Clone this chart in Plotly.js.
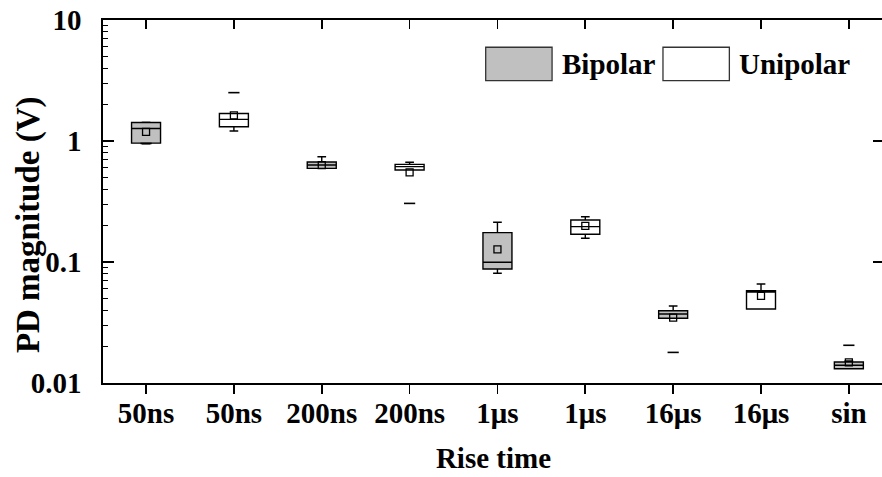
<!DOCTYPE html>
<html>
<head>
<meta charset="utf-8">
<script src="https://cdn.plot.ly/plotly-3.0.1.min.js"></script>
<style>html,body{margin:0;padding:0;overflow:hidden;background:#fff}</style>
</head>
<body>
<div id="chart"></div>
<script>
// Category tick labels (Rise time)
const tickLabels = ["50ns","50ns","200ns","200ns","1\u03bcs","1\u03bcs","16\u03bcs","16\u03bcs","sin"];
const tickPos = [0,1,2,3,4,5,6,7,8];
const minorTickVals = [0.02,0.03,0.04,0.05,0.06,0.07,0.08,0.09,0.2,0.3,0.4,0.5,0.6,0.7,0.8,0.9,2,3,4,5,6,7,8,9];

// Bipolar series
const bipX     = [0, 2, 4, 6, 8];
const bipQ1    = [0.96, 0.594, 0.0875, 0.0343, 0.0131];
const bipMed   = [1.27, 0.633, 0.0994, 0.0372, 0.0140];
const bipQ3    = [1.42, 0.670, 0.175, 0.0396, 0.0149];
const bipLo    = [0.95, 0.594, 0.0807, 0.0343, 0.0131];
const bipHi    = [1.43, 0.742, 0.213, 0.0433, 0.0152];
const bipMean  = [1.19, 0.633, 0.127, 0.0347, 0.0148];
const bipExtX  = [0, 6, 8];
const bipExtY  = [0.955, 0.0179, 0.0205];

// Unipolar series
const uniX     = [1, 3, 5, 7];
const uniQ1    = [1.31, 0.576, 0.1695, 0.0409];
const uniMed   = [1.51, 0.614, 0.196, 0.0565];
const uniQ3    = [1.69, 0.641, 0.2225, 0.0579];
const uniLo    = [1.21, 0.576, 0.157, 0.0409];
const uniHi    = [1.69, 0.667, 0.2366, 0.0658];
const uniMean  = [1.63, 0.551, 0.199, 0.0524];
const uniExtX  = [1, 3];
const uniExtY  = [2.51, 0.305];

const seriesNames = ["Bipolar", "Unipolar"];
const seriesFill = ["#c0c0c0", "#ffffff"];
const yTitle = "PD magnitude (V)";
const xTitle = "Rise time";

const FONT = "Liberation Serif, Times New Roman, serif";
const boxStyle = (fill) => ({
  type: "box", fillcolor: fill, line: {color: "#000", width: 1.4},
  width: 0.33, whiskerwidth: 0.3, boxpoints: false, hoverinfo: "skip", showlegend: false
});

const traces = [
  Object.assign(boxStyle(seriesFill[0]), {name: seriesNames[0], x: bipX, q1: bipQ1, median: bipMed, q3: bipQ3, lowerfence: bipLo, upperfence: bipHi}),
  Object.assign(boxStyle(seriesFill[1]), {name: seriesNames[1], x: uniX, q1: uniQ1, median: uniMed, q3: uniQ3, lowerfence: uniLo, upperfence: uniHi}),
  {type: "scatter", mode: "markers", x: bipX, y: bipMean, showlegend: false, hoverinfo: "skip",
   marker: {symbol: "square-open", size: 7, color: "#000", line: {width: 1.3, color: "#000"}}},
  {type: "scatter", mode: "markers", x: uniX, y: uniMean, showlegend: false, hoverinfo: "skip",
   marker: {symbol: "square-open", size: 7, color: "#000", line: {width: 1.3, color: "#000"}}},
  {type: "scatter", mode: "markers", x: bipExtX.concat(uniExtX), y: bipExtY.concat(uniExtY), showlegend: false, hoverinfo: "skip",
   marker: {symbol: "line-ew-open", size: 8, color: "#000", line: {width: 1.6, color: "#000"}}},
  // invisible helper traces to activate the top-tick and minor-tick axes
  {type: "scatter", x: [0], y: [1], xaxis: "x2", yaxis: "y", mode: "markers", marker: {opacity: 0}, showlegend: false, hoverinfo: "skip"},
  {type: "scatter", x: [0], y: [1], xaxis: "x", yaxis: "y2", mode: "markers", marker: {opacity: 0}, showlegend: false, hoverinfo: "skip"}
];

// Legend built from series names and fills
const legX = [[0.490, 0.575], [0.717, 0.802]];
const shapes = [];
const annotations = [];
seriesNames.forEach((n, i) => {
  shapes.push({type: "rect", xref: "paper", yref: "paper", x0: legX[i][0], x1: legX[i][1], y0: 0.833, y1: 0.925,
               fillcolor: seriesFill[i], line: {color: "#333", width: 1.3}});
  annotations.push({xref: "paper", yref: "paper", x: legX[i][1] + 0.01, y: 0.879, xanchor: "left", yanchor: "middle",
                    text: n, showarrow: false, font: {family: FONT, size: 29, color: "#000", weight: "bold"}});
});
annotations.push({xref: "paper", yref: "paper", x: -0.096, y: 0.435, xanchor: "center", yanchor: "middle",
                  textangle: -90, text: yTitle, showarrow: false,
                  font: {family: FONT, size: 33, color: "#000", weight: "bold"}});

const layout = {
  width: 886, height: 477,
  margin: {l: 103, r: 2, t: 20, b: 94},
  paper_bgcolor: "#fff", plot_bgcolor: "#fff",
  boxmode: "overlay",
  font: {family: FONT, color: "#000"},
  xaxis: {
    range: [-0.49, 8.4], tickmode: "array", tickvals: tickPos, ticktext: tickLabels,
    ticks: "outside", ticklen: 9, tickwidth: 1.6, tickcolor: "#000",
    showline: true, linecolor: "#000", linewidth: 1.8, mirror: true,
    showgrid: false, zeroline: false, ticklabelstandoff: -6,
    tickfont: {family: FONT, size: 29, color: "#000", weight: "bold"},
    title: {text: xTitle, font: {family: FONT, size: 29, color: "#000", weight: "bold"}, standoff: 20}
  },
  xaxis2: {
    overlaying: "x", anchor: "y", side: "top", range: [-0.49, 8.4], tickmode: "array", tickvals: tickPos,
    ticks: "inside", ticklen: 9, tickwidth: 1.6, tickcolor: "#000", showticklabels: false,
    showline: false, showgrid: false, zeroline: false
  },
  yaxis: {
    type: "log", range: [-2, 1], tickmode: "linear", tick0: 0, dtick: 1,
    ticks: "inside", ticklen: 11, tickwidth: 1.6, tickcolor: "#000",
    showline: true, linecolor: "#000", linewidth: 1.8, mirror: "ticks",
    showgrid: false, zeroline: false, ticklabelstandoff: 14,
    tickfont: {family: FONT, size: 29, color: "#000", weight: "bold"}
  },
  yaxis2: {
    type: "log", range: [-2, 1], overlaying: "y", anchor: "x", side: "left",
    tickmode: "array", tickvals: minorTickVals, showticklabels: false,
    ticks: "inside", ticklen: 5, tickwidth: 1.2, tickcolor: "#000",
    showline: false, showgrid: false, zeroline: false
  },
  shapes: shapes,
  annotations: annotations
};

Plotly.newPlot("chart", traces, layout, {displayModeBar: false, staticPlot: true});
</script>
</body>
</html>
